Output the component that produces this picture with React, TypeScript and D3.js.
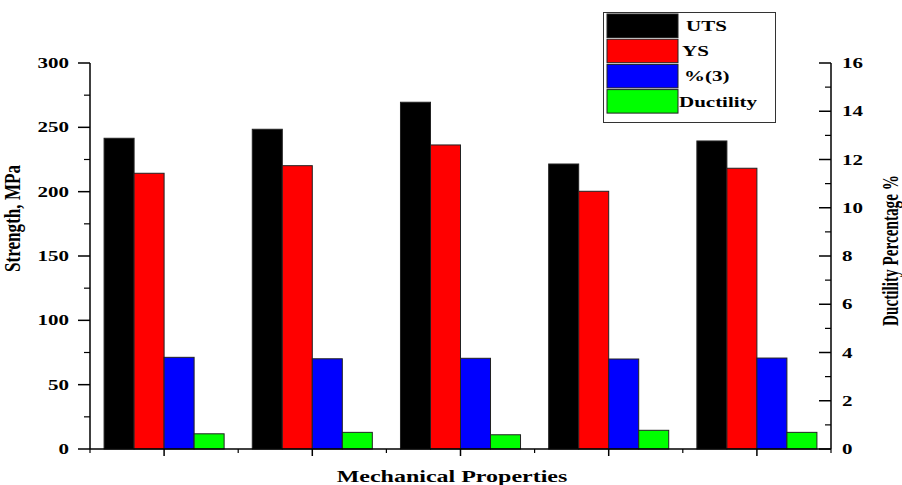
import React from "react";
import * as d3 from "d3";

const categories = ["Sample 1", "Sample 2", "Sample 3", "Sample 4", "Sample 5"];
const seriesNames = ["UTS", "YS", "%(3)", "Ductility"];
const seriesColors = ["#000000", "#ff0000", "#0000ff", "#00ff00"];
// Strength (MPa) on left axis
const utsValues = [241.5, 248.5, 269.5, 221.5, 239.4];
const ysValues = [214.3, 220.2, 236.3, 200.3, 218.2];
// Percentages on right axis
const pct3Values = [3.8, 3.74, 3.76, 3.73, 3.77];
const ductilityValues = [0.63, 0.69, 0.59, 0.775, 0.69];
const leftTicks = [0, 50, 100, 150, 200, 250, 300];
const rightTicks = [0, 2, 4, 6, 8, 10, 12, 14, 16];

const W = 902, H = 485;
const L = 90, R = 831, T = 63, B = 449;
const font = "'Liberation Serif', 'Times New Roman', serif";
const SX = 1.5;

function T2({ x, y, anchor = "start", size = 14, children, rotate = 0, len }: any) {
  return (
    <g transform={`translate(${x},${y}) scale(${SX},1) rotate(${rotate})`}>
      <text
        x={0}
        y={0}
        textAnchor={anchor}
        fontFamily={font}
        fontWeight="bold"
        fontSize={size}
        textLength={len}
        lengthAdjust={len ? "spacingAndGlyphs" : undefined}
      >
        {children}
      </text>
    </g>
  );
}

export default function App() {
  const x = d3.scaleBand<string>().domain(categories).range([L, R]).paddingInner(0).paddingOuter(0);
  const groupW = x.bandwidth() * 0.81;
  const xs = d3.scaleBand<string>().domain(seriesNames).range([0, groupW]).padding(0);
  const yL = d3.scaleLinear().domain([0, 300]).range([B, T]);
  const yR = d3.scaleLinear().domain([0, 16]).range([B, T]);

  const series = [
    { name: seriesNames[0], values: utsValues, scale: yL },
    { name: seriesNames[1], values: ysValues, scale: yL },
    { name: seriesNames[2], values: pct3Values, scale: yR },
    { name: seriesNames[3], values: ductilityValues, scale: yR },
  ];

  const leftMinor = d3.range(25, 300, 50);
  const rightMinor = d3.range(1, 16, 2);

  return (
    <div style={{ position: "absolute", left: 0, top: 0 }}>
      <svg width={W} height={H} style={{ display: "block", background: "#fff" }}>
        {/* bars */}
        {series.map((s, si) =>
          categories.map((c, ci) => {
            const x0 = (x(c) as number) + (x.bandwidth() - groupW) / 2 + (xs(s.name) as number);
            const yTop = s.scale(s.values[ci]);
            return (
              <rect
                key={s.name + c}
                x={x0}
                y={yTop}
                width={xs.bandwidth()}
                height={B - yTop}
                fill={seriesColors[si]}
                stroke="#222"
                strokeWidth={1}
              />
            );
          })
        )}

        {/* left axis */}
        <line x1={L} x2={L} y1={T} y2={B} stroke="#000" strokeWidth={1.5} />
        {leftTicks.map((t) => (
          <g key={"lt" + t}>
            <line x1={L - 12} x2={L} y1={yL(t)} y2={yL(t)} stroke="#000" strokeWidth={1.5} />
            <T2 x={L - 21} y={yL(t) + 5} anchor="end" size={14}>
              {t}
            </T2>
          </g>
        ))}
        {leftMinor.map((t) => (
          <line key={"lm" + t} x1={L - 6} x2={L} y1={yL(t)} y2={yL(t)} stroke="#000" strokeWidth={1.2} />
        ))}

        {/* right axis */}
        <line x1={R} x2={R} y1={T} y2={B} stroke="#000" strokeWidth={1.5} />
        {rightTicks.map((t) => (
          <g key={"rt" + t}>
            <line x1={R - 12} x2={R} y1={yR(t)} y2={yR(t)} stroke="#000" strokeWidth={1.5} />
            <T2 x={R + 11} y={yR(t) + 5} anchor="start" size={14}>
              {t}
            </T2>
          </g>
        ))}
        {rightMinor.map((t) => (
          <line key={"rm" + t} x1={R - 6} x2={R} y1={yR(t)} y2={yR(t)} stroke="#000" strokeWidth={1.2} />
        ))}

        {/* bottom axis */}
        <line x1={L} x2={R} y1={B} y2={B} stroke="#000" strokeWidth={1.5} />
        {categories.map((c) => (
          <line key={"bt" + c} x1={(x(c) as number) + x.bandwidth() / 2} x2={(x(c) as number) + x.bandwidth() / 2} y1={B} y2={B + 7} stroke="#000" strokeWidth={1.5} />
        ))}
        {categories.map((c) => (
          <line key={"bm" + c} x1={x(c) as number} x2={x(c) as number} y1={B} y2={B + 4} stroke="#000" strokeWidth={1.2} />
        ))}
        <line x1={R} x2={R} y1={B} y2={B + 4} stroke="#000" strokeWidth={1.2} />

        {/* axis titles */}
        <T2 x={20} y={(165 + 272) / 2} anchor="middle" size={15} rotate={-90} len={107}>
          Strength, MPa
        </T2>
        <T2 x={898} y={(175 + 326) / 2} anchor="middle" size={15} rotate={-90} len={151}>
          Ductility Percentage %
        </T2>
        <T2 x={452} y={482} anchor="middle" size={16}>
          Mechanical Properties
        </T2>

        {/* legend */}
        <rect x={603.5} y={12.5} width={172} height={110} fill="#fff" stroke="#333" strokeWidth={1} />
        {seriesNames.map((n, i) => {
          const yy = 14 + i * 25.2;
          const labelX = [686, 682, 684, 679][i];
          return (
            <g key={"lg" + n}>
              <rect x={607} y={yy} width={71} height={23.5} fill={seriesColors[i]} stroke="#222" strokeWidth={1} />
              <T2 x={labelX} y={yy + 17} size={14}>
                {n}
              </T2>
            </g>
          );
        })}
      </svg>
    </div>
  );
}
